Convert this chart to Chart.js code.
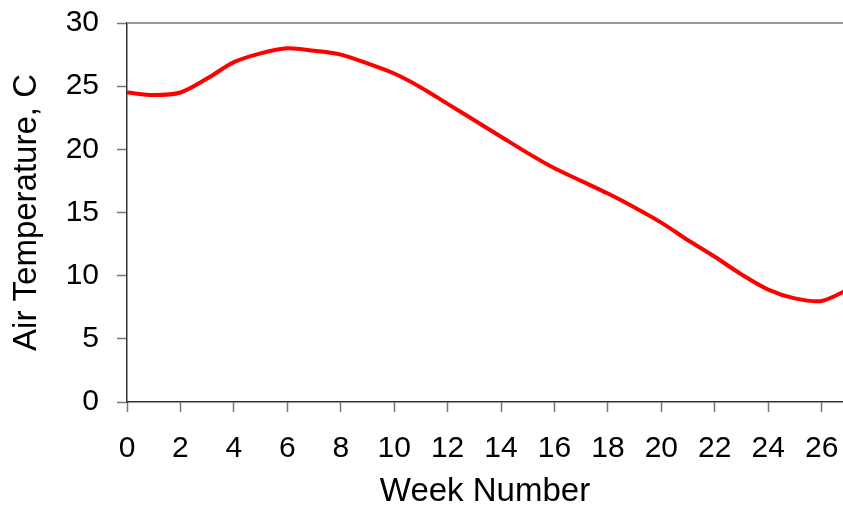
<!DOCTYPE html>
<html>
<head>
<meta charset="utf-8">
<script src="https://cdn.jsdelivr.net/npm/chart.js@4/dist/chart.umd.min.js"></script>
<style>
  html, body { margin: 0; padding: 0; background: #fff; }
  #wrap { width: 843px; height: 508px; }
</style>
</head>
<body>
<div id="wrap"><canvas id="myChart"></canvas></div>
<script>
// 週番号と気温
const weeks = [0, 1, 2, 3, 4, 5, 6, 7, 8, 9, 10, 11, 12, 13, 14, 15, 16, 17, 18, 19, 20, 21, 22, 23, 24, 25, 26, 27];
const airTemp = [24.5, 24.3, 24.5, 25.6, 26.9, 27.6, 28.0, 27.8, 27.5, 26.8, 26.0, 24.9, 23.6, 22.3, 21.0, 19.7, 18.5, 17.5, 16.5, 15.4, 14.2, 12.8, 11.5, 10.1, 8.9, 8.2, 8.0, 8.9];
const xTicks = [0, 2, 4, 6, 8, 10, 12, 14, 16, 18, 20, 22, 24, 26];
const yTicks = [0, 5, 10, 15, 20, 25, 30];

const FONT = 'Liberation Sans, Arial, sans-serif';

// 上の枠線（グレー）
const topBorder = {
  id: 'topBorder',
  afterDraw(chart) {
    const { ctx, chartArea } = chart;
    ctx.save();
    ctx.strokeStyle = '#999';
    ctx.lineWidth = 2;
    ctx.beginPath();
    ctx.moveTo(chartArea.left, chartArea.top);
    ctx.lineTo(chart.width, chartArea.top);
    ctx.stroke();
    ctx.restore();
  },
};

const ctx = document.getElementById('myChart').getContext('2d');

new Chart(ctx, {
  type: 'line',
  data: {
    datasets: [
      {
        data: weeks.map((w, i) => ({ x: w, y: airTemp[i] })),
        borderColor: '#ff0000',
        borderWidth: 4,
        pointRadius: 0,
        tension: 0.3,
        fill: false,
      },
    ],
  },
  options: {
    responsive: true,
    maintainAspectRatio: false,
    animation: false,
    layout: { padding: { top: 23, right: 0, left: 0, bottom: 0 } },
    plugins: { legend: { display: false }, tooltip: { enabled: false } },
    scales: {
      x: {
        type: 'linear',
        min: 0,
        max: 26.8,
        afterBuildTicks: (scale) => {
          scale.ticks = xTicks.map((v) => ({ value: v }));
        },
        afterFit: (scale) => {
          scale.height = 106;
          scale.paddingLeft = 0;
          scale.paddingRight = 0;
        },
        grid: { display: true, drawOnChartArea: false, tickLength: 10, color: '#777', tickWidth: 1.5 },
        border: { color: '#333', width: 1.5 },
        ticks: { color: '#000', font: { family: FONT, size: 30 }, padding: 19, maxRotation: 0, autoSkip: false },
        title: { display: true, text: 'Week Number', color: '#000', font: { family: FONT, size: 33 }, padding: { top: 0, bottom: -4 } },
      },
      y: {
        min: 0,
        max: 30,
        afterBuildTicks: (scale) => {
          scale.ticks = yTicks.map((v) => ({ value: v }));
        },
        afterFit: (scale) => {
          scale.width = 127;
          scale.paddingTop = 0;
          scale.paddingBottom = 0;
        },
        grid: { display: true, drawOnChartArea: false, tickLength: 10, color: '#777', tickWidth: 1.5 },
        border: { color: '#333', width: 1.5 },
        ticks: { color: '#000', font: { family: FONT, size: 30 }, padding: 18 },
        title: { display: true, text: 'Air Temperature, C', color: '#000', font: { family: FONT, size: 33 }, padding: { top: 7, bottom: 0 } },
      },
    },
  },
  plugins: [topBorder],
});
</script>
</body>
</html>
